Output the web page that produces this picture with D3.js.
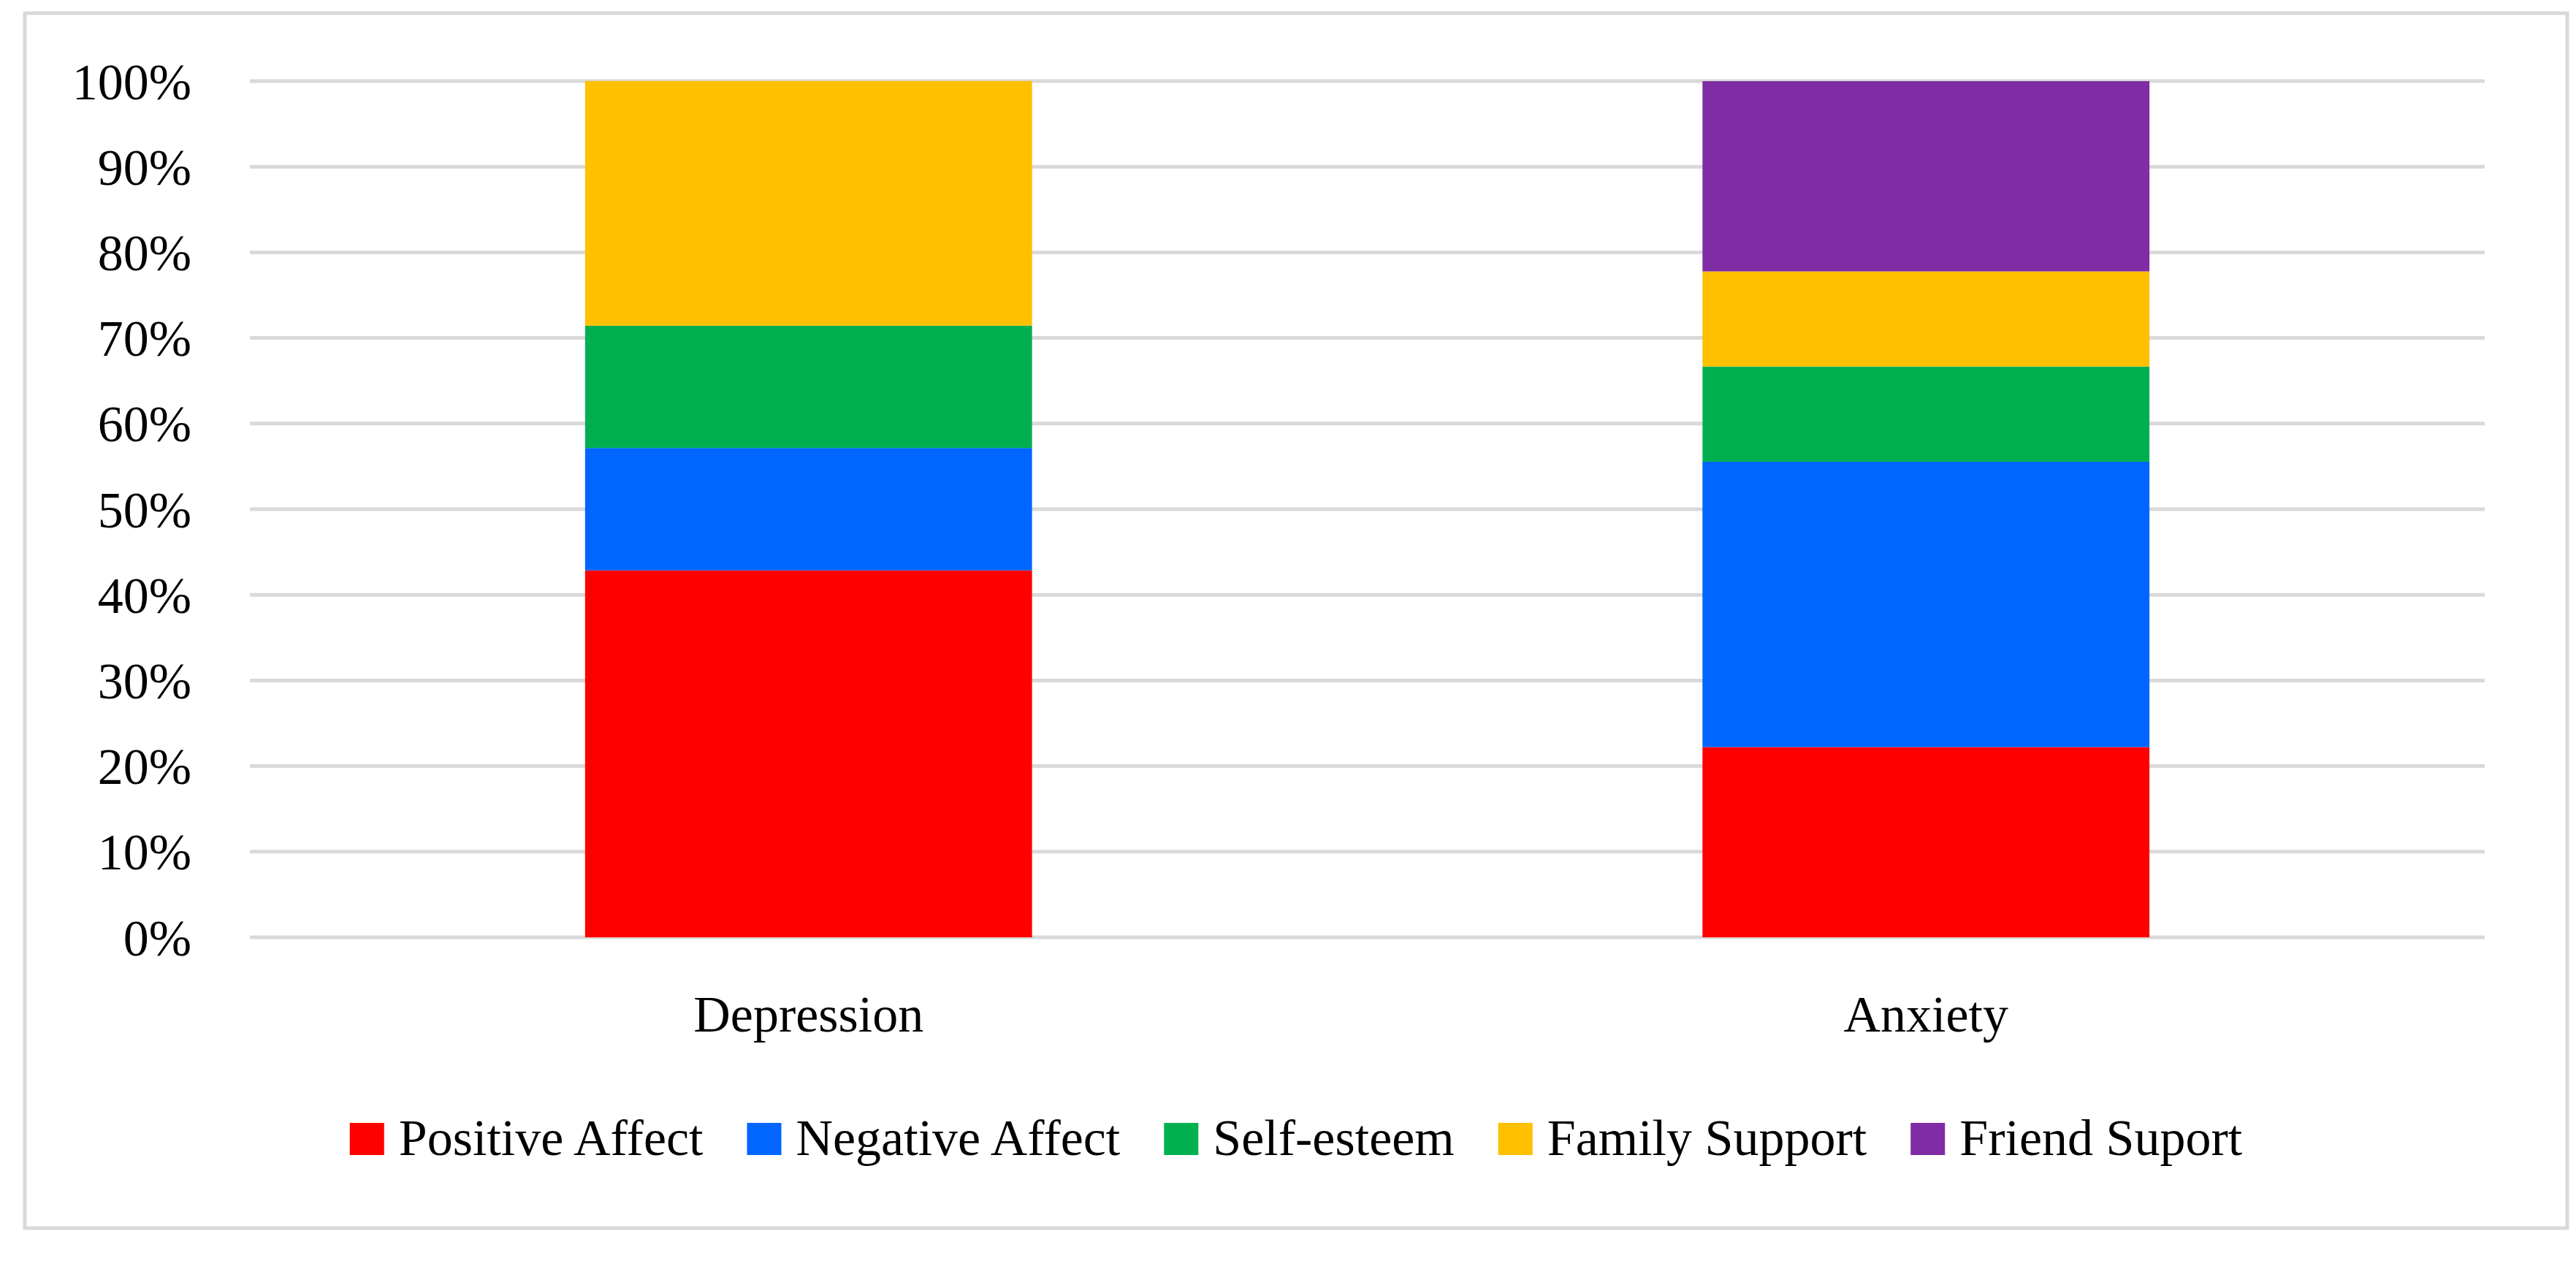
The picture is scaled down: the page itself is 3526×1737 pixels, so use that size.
<!DOCTYPE html>
<html><head><meta charset="utf-8">
<script src="https://cdn.jsdelivr.net/npm/d3@7"></script>
<style>body{margin:0;background:#fff}text{font-family:"Liberation Serif",serif;fill:#000}</style>
</head><body><svg id="c"></svg>
<script>
const categories = ["Depression", "Anxiety"];
const seriesNames = ["Positive Affect", "Negative Affect", "Self-esteem", "Family Support", "Friend Suport"];
const seriesColors = ["#ff0000", "#0066ff", "#00b050", "#ffc000", "#7f2ca5"];
const depressionValues = [42.86, 14.29, 14.29, 28.57, 0];
const anxietyValues = [22.22, 33.33, 11.11, 11.11, 22.22];
const tickValues = [0, 10, 20, 30, 40, 50, 60, 70, 80, 90, 100];

const [W, H] = [3526, 1737];
const svg = d3.select('#c').attr('width', W).attr('height', H);
svg.append('rect').attr('x', 34).attr('y', 18).attr('width', 3480).attr('height', 1663)
  .attr('fill', 'none').attr('stroke', '#d9d9d9').attr('stroke-width', 5);

const x = d3.scaleBand().domain(categories).range([342, 3401]).paddingInner(0.6).paddingOuter(0.3);
const y = d3.scaleLinear().domain([0, 100]).range([1283, 111]);

const grid = svg.append('g');
tickValues.forEach(t => {
  grid.append('line').attr('x1', 342).attr('x2', 3401).attr('y1', y(t)).attr('y2', y(t))
    .attr('stroke', '#d9d9d9').attr('stroke-width', 5);
  grid.append('text').attr('x', 262).attr('y', y(t)).attr('dy', '0.35em')
    .attr('text-anchor', 'end').attr('font-size', 70).text(t + '%');
});

const rows = categories.map((c, i) => {
  const vals = i === 0 ? depressionValues : anxietyValues;
  const r = {cat: c};
  seriesNames.forEach((s, j) => r[s] = vals[j]);
  return r;
});
const stack = d3.stack().keys(seriesNames)(rows);
svg.append('g').selectAll('g').data(stack).join('g')
  .attr('fill', (d, i) => seriesColors[i])
  .selectAll('rect').data(d => d).join('rect')
  .attr('x', d => x(d.data.cat)).attr('width', x.bandwidth())
  .attr('y', d => y(d[1])).attr('height', d => y(d[0]) - y(d[1]));

categories.forEach(c => {
  svg.append('text').attr('x', x(c) + x.bandwidth() / 2).attr('y', 1412)
    .attr('text-anchor', 'middle').attr('font-size', 70).text(c);
});

// legend centred under plot
const lg = svg.append('g');
const items = seriesNames.map((s, i) => {
  const g = lg.append('g');
  g.append('rect').attr('width', 47).attr('height', 44).attr('y', -44).attr('fill', seriesColors[i]);
  const t = g.append('text').attr('x', 67).attr('font-size', 70).text(s);
  return {g, w: 67 + t.node().getComputedTextLength()};
});
const gap = 60;
const total = d3.sum(items, d => d.w) + gap * (items.length - 1);
let cx = 1774 - total / 2;
items.forEach(it => { it.g.attr('transform', `translate(${cx},1581)`); cx += it.w + gap; });
</script></body></html>
